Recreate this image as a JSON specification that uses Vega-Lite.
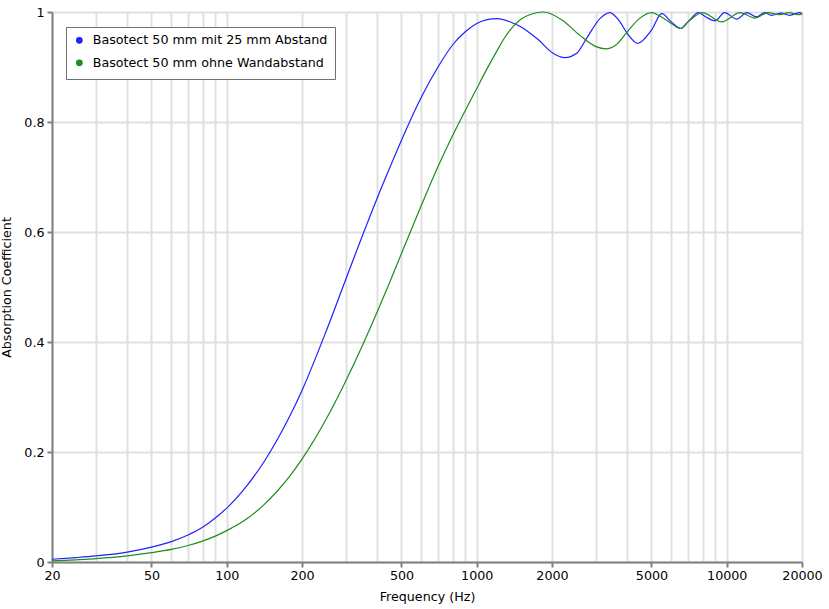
{
  "$schema": "https://vega.github.io/schema/vega-lite/v6.json",
  "autosize": "none",
  "width": 750,
  "height": 550,
  "padding": {"left": 52, "top": 12, "right": 27, "bottom": 47},
  "background": "white",
  "config": {
    "view": {"stroke": null},
    "font": "DejaVu Sans",
    "axis": {
      "labelFont": "DejaVu Sans", "titleFont": "DejaVu Sans",
      "labelFontSize": 12.7, "titleFontSize": 12.7, "titleFontWeight": "normal",
      "labelColor": "#000", "titleColor": "#000",
      "domainColor": "#808080", "domainWidth": 2,
      "tickColor": "#808080", "tickWidth": 2, "tickSize": 5,
      "gridColor": "#e0e0e0", "gridWidth": 2
    }
  },
  "data": {"values": [
    {"f":20,"a":0.005,"s":"Basotect 50 mm mit 25 mm Abstand"},
    {"f":25,"a":0.008,"s":"Basotect 50 mm mit 25 mm Abstand"},
    {"f":30,"a":0.011,"s":"Basotect 50 mm mit 25 mm Abstand"},
    {"f":40,"a":0.018,"s":"Basotect 50 mm mit 25 mm Abstand"},
    {"f":50,"a":0.027,"s":"Basotect 50 mm mit 25 mm Abstand"},
    {"f":60,"a":0.037,"s":"Basotect 50 mm mit 25 mm Abstand"},
    {"f":70,"a":0.049,"s":"Basotect 50 mm mit 25 mm Abstand"},
    {"f":80,"a":0.063,"s":"Basotect 50 mm mit 25 mm Abstand"},
    {"f":90,"a":0.080,"s":"Basotect 50 mm mit 25 mm Abstand"},
    {"f":100,"a":0.098,"s":"Basotect 50 mm mit 25 mm Abstand"},
    {"f":120,"a":0.138,"s":"Basotect 50 mm mit 25 mm Abstand"},
    {"f":140,"a":0.180,"s":"Basotect 50 mm mit 25 mm Abstand"},
    {"f":160,"a":0.224,"s":"Basotect 50 mm mit 25 mm Abstand"},
    {"f":180,"a":0.268,"s":"Basotect 50 mm mit 25 mm Abstand"},
    {"f":200,"a":0.312,"s":"Basotect 50 mm mit 25 mm Abstand"},
    {"f":250,"a":0.420,"s":"Basotect 50 mm mit 25 mm Abstand"},
    {"f":300,"a":0.515,"s":"Basotect 50 mm mit 25 mm Abstand"},
    {"f":350,"a":0.595,"s":"Basotect 50 mm mit 25 mm Abstand"},
    {"f":400,"a":0.662,"s":"Basotect 50 mm mit 25 mm Abstand"},
    {"f":450,"a":0.718,"s":"Basotect 50 mm mit 25 mm Abstand"},
    {"f":500,"a":0.767,"s":"Basotect 50 mm mit 25 mm Abstand"},
    {"f":600,"a":0.845,"s":"Basotect 50 mm mit 25 mm Abstand"},
    {"f":700,"a":0.900,"s":"Basotect 50 mm mit 25 mm Abstand"},
    {"f":800,"a":0.940,"s":"Basotect 50 mm mit 25 mm Abstand"},
    {"f":900,"a":0.964,"s":"Basotect 50 mm mit 25 mm Abstand"},
    {"f":1000,"a":0.979,"s":"Basotect 50 mm mit 25 mm Abstand"},
    {"f":1100,"a":0.986,"s":"Basotect 50 mm mit 25 mm Abstand"},
    {"f":1200,"a":0.988,"s":"Basotect 50 mm mit 25 mm Abstand"},
    {"f":1378,"a":0.981,"s":"Basotect 50 mm mit 25 mm Abstand"},
    {"f":1500,"a":0.973,"s":"Basotect 50 mm mit 25 mm Abstand"},
    {"f":1630,"a":0.962,"s":"Basotect 50 mm mit 25 mm Abstand"},
    {"f":1760,"a":0.950,"s":"Basotect 50 mm mit 25 mm Abstand"},
    {"f":2020,"a":0.925,"s":"Basotect 50 mm mit 25 mm Abstand"},
    {"f":2250,"a":0.917,"s":"Basotect 50 mm mit 25 mm Abstand"},
    {"f":2510,"a":0.925,"s":"Basotect 50 mm mit 25 mm Abstand"},
    {"f":2750,"a":0.952,"s":"Basotect 50 mm mit 25 mm Abstand"},
    {"f":3110,"a":0.988,"s":"Basotect 50 mm mit 25 mm Abstand"},
    {"f":3410,"a":0.999,"s":"Basotect 50 mm mit 25 mm Abstand"},
    {"f":3740,"a":0.982,"s":"Basotect 50 mm mit 25 mm Abstand"},
    {"f":4000,"a":0.961,"s":"Basotect 50 mm mit 25 mm Abstand"},
    {"f":4400,"a":0.943,"s":"Basotect 50 mm mit 25 mm Abstand"},
    {"f":5000,"a":0.967,"s":"Basotect 50 mm mit 25 mm Abstand"},
    {"f":5500,"a":0.997,"s":"Basotect 50 mm mit 25 mm Abstand"},
    {"f":6000,"a":0.982,"s":"Basotect 50 mm mit 25 mm Abstand"},
    {"f":6540,"a":0.970,"s":"Basotect 50 mm mit 25 mm Abstand"},
    {"f":7000,"a":0.982,"s":"Basotect 50 mm mit 25 mm Abstand"},
    {"f":7700,"a":0.999,"s":"Basotect 50 mm mit 25 mm Abstand"},
    {"f":8250,"a":0.991,"s":"Basotect 50 mm mit 25 mm Abstand"},
    {"f":8990,"a":0.984,"s":"Basotect 50 mm mit 25 mm Abstand"},
    {"f":9800,"a":0.999,"s":"Basotect 50 mm mit 25 mm Abstand"},
    {"f":10970,"a":0.987,"s":"Basotect 50 mm mit 25 mm Abstand"},
    {"f":12020,"a":0.999,"s":"Basotect 50 mm mit 25 mm Abstand"},
    {"f":13170,"a":0.991,"s":"Basotect 50 mm mit 25 mm Abstand"},
    {"f":14200,"a":0.999,"s":"Basotect 50 mm mit 25 mm Abstand"},
    {"f":15100,"a":0.994,"s":"Basotect 50 mm mit 25 mm Abstand"},
    {"f":16540,"a":0.998,"s":"Basotect 50 mm mit 25 mm Abstand"},
    {"f":17840,"a":0.994,"s":"Basotect 50 mm mit 25 mm Abstand"},
    {"f":19700,"a":0.999,"s":"Basotect 50 mm mit 25 mm Abstand"},
    {"f":20000,"a":0.996,"s":"Basotect 50 mm mit 25 mm Abstand"},

    {"f":20,"a":0.002,"s":"Basotect 50 mm ohne Wandabstand"},
    {"f":25,"a":0.004,"s":"Basotect 50 mm ohne Wandabstand"},
    {"f":30,"a":0.006,"s":"Basotect 50 mm ohne Wandabstand"},
    {"f":40,"a":0.011,"s":"Basotect 50 mm ohne Wandabstand"},
    {"f":50,"a":0.017,"s":"Basotect 50 mm ohne Wandabstand"},
    {"f":60,"a":0.023,"s":"Basotect 50 mm ohne Wandabstand"},
    {"f":70,"a":0.030,"s":"Basotect 50 mm ohne Wandabstand"},
    {"f":80,"a":0.038,"s":"Basotect 50 mm ohne Wandabstand"},
    {"f":90,"a":0.047,"s":"Basotect 50 mm ohne Wandabstand"},
    {"f":100,"a":0.057,"s":"Basotect 50 mm ohne Wandabstand"},
    {"f":120,"a":0.078,"s":"Basotect 50 mm ohne Wandabstand"},
    {"f":140,"a":0.103,"s":"Basotect 50 mm ohne Wandabstand"},
    {"f":160,"a":0.130,"s":"Basotect 50 mm ohne Wandabstand"},
    {"f":180,"a":0.158,"s":"Basotect 50 mm ohne Wandabstand"},
    {"f":200,"a":0.187,"s":"Basotect 50 mm ohne Wandabstand"},
    {"f":250,"a":0.260,"s":"Basotect 50 mm ohne Wandabstand"},
    {"f":300,"a":0.330,"s":"Basotect 50 mm ohne Wandabstand"},
    {"f":350,"a":0.395,"s":"Basotect 50 mm ohne Wandabstand"},
    {"f":400,"a":0.455,"s":"Basotect 50 mm ohne Wandabstand"},
    {"f":450,"a":0.510,"s":"Basotect 50 mm ohne Wandabstand"},
    {"f":500,"a":0.561,"s":"Basotect 50 mm ohne Wandabstand"},
    {"f":600,"a":0.648,"s":"Basotect 50 mm ohne Wandabstand"},
    {"f":700,"a":0.719,"s":"Basotect 50 mm ohne Wandabstand"},
    {"f":800,"a":0.775,"s":"Basotect 50 mm ohne Wandabstand"},
    {"f":900,"a":0.821,"s":"Basotect 50 mm ohne Wandabstand"},
    {"f":1000,"a":0.861,"s":"Basotect 50 mm ohne Wandabstand"},
    {"f":1100,"a":0.897,"s":"Basotect 50 mm ohne Wandabstand"},
    {"f":1200,"a":0.928,"s":"Basotect 50 mm ohne Wandabstand"},
    {"f":1300,"a":0.955,"s":"Basotect 50 mm ohne Wandabstand"},
    {"f":1400,"a":0.974,"s":"Basotect 50 mm ohne Wandabstand"},
    {"f":1500,"a":0.987,"s":"Basotect 50 mm ohne Wandabstand"},
    {"f":1650,"a":0.996,"s":"Basotect 50 mm ohne Wandabstand"},
    {"f":1850,"a":1.0,"s":"Basotect 50 mm ohne Wandabstand"},
    {"f":2200,"a":0.985,"s":"Basotect 50 mm ohne Wandabstand"},
    {"f":2580,"a":0.958,"s":"Basotect 50 mm ohne Wandabstand"},
    {"f":3000,"a":0.937,"s":"Basotect 50 mm ohne Wandabstand"},
    {"f":3280,"a":0.933,"s":"Basotect 50 mm ohne Wandabstand"},
    {"f":3600,"a":0.94,"s":"Basotect 50 mm ohne Wandabstand"},
    {"f":4000,"a":0.964,"s":"Basotect 50 mm ohne Wandabstand"},
    {"f":4470,"a":0.988,"s":"Basotect 50 mm ohne Wandabstand"},
    {"f":5000,"a":0.999,"s":"Basotect 50 mm ohne Wandabstand"},
    {"f":5390,"a":0.993,"s":"Basotect 50 mm ohne Wandabstand"},
    {"f":6000,"a":0.979,"s":"Basotect 50 mm ohne Wandabstand"},
    {"f":6540,"a":0.970,"s":"Basotect 50 mm ohne Wandabstand"},
    {"f":7000,"a":0.982,"s":"Basotect 50 mm ohne Wandabstand"},
    {"f":8000,"a":0.999,"s":"Basotect 50 mm ohne Wandabstand"},
    {"f":9540,"a":0.982,"s":"Basotect 50 mm ohne Wandabstand"},
    {"f":11300,"a":0.999,"s":"Basotect 50 mm ohne Wandabstand"},
    {"f":12960,"a":0.989,"s":"Basotect 50 mm ohne Wandabstand"},
    {"f":14640,"a":0.999,"s":"Basotect 50 mm ohne Wandabstand"},
    {"f":16200,"a":0.995,"s":"Basotect 50 mm ohne Wandabstand"},
    {"f":17800,"a":0.999,"s":"Basotect 50 mm ohne Wandabstand"},
    {"f":19200,"a":0.995,"s":"Basotect 50 mm ohne Wandabstand"},
    {"f":20000,"a":0.996,"s":"Basotect 50 mm ohne Wandabstand"}
  ]},
  "resolve": {"axis": {"x": "independent"}},
  "layer": [
    {
      "mark": {"type": "point", "opacity": 0},
      "encoding": {
        "x": {
          "field": "f", "type": "quantitative",
          "scale": {"type": "log", "domain": [20, 20000], "nice": false},
          "axis": {
            "orient": "bottom",
            "title": null,
            "values": [20,30,40,50,60,70,80,90,100,200,300,400,500,600,700,800,900,1000,2000,3000,4000,5000,6000,7000,8000,9000,10000,20000],
            "labels": false,
            "ticks": false,
            "domain": false,
            "grid": true
          }
        },
        "y": {
          "field": "a", "type": "quantitative",
          "scale": {"domain": [0, 1], "nice": false},
          "axis": {
            "title": "Absorption Coefficient",
            "values": [0, 0.2, 0.4, 0.6, 0.8, 1],
            "format": "~g",
            "labelPadding": 3,
            "titlePadding": 10
          }
        }
      }
    },
    {
      "mark": {"type": "line", "interpolate": "monotone", "strokeWidth": 1.2},
      "encoding": {
        "x": {
          "field": "f", "type": "quantitative",
          "scale": {"type": "log", "domain": [20, 20000], "nice": false},
          "axis": {
            "orient": "bottom",
            "title": "Frequency (Hz)",
            "values": [20,50,100,200,500,1000,2000,5000,10000,20000],
            "format": "d",
            "grid": false,
            "labelPadding": 2,
            "titlePadding": 9,
            "labelFlush": false,
            "labelOverlap": false
          }
        },
        "y": {"field": "a", "type": "quantitative"},
        "color": {
          "field": "s", "type": "nominal",
          "scale": {"domain": ["Basotect 50 mm mit 25 mm Abstand", "Basotect 50 mm ohne Wandabstand"], "range": ["#2020ff", "#1e8c1e"]},
          "legend": {
            "title": null,
            "orient": "none",
            "legendX": 14,
            "legendY": 15,
            "symbolType": "circle",
            "symbolSize": 10,
            "symbolStrokeWidth": 3.6,
            "labelFont": "DejaVu Sans",
            "labelFontSize": 12.7,
            "labelLimit": 500,
            "labelColor": "#000",
            "strokeColor": "#707070",
            "fillColor": "white",
            "padding": 7,
            "rowPadding": 3.5,
            "labelOffset": 7
          }
        }
      }
    }
  ]
}
